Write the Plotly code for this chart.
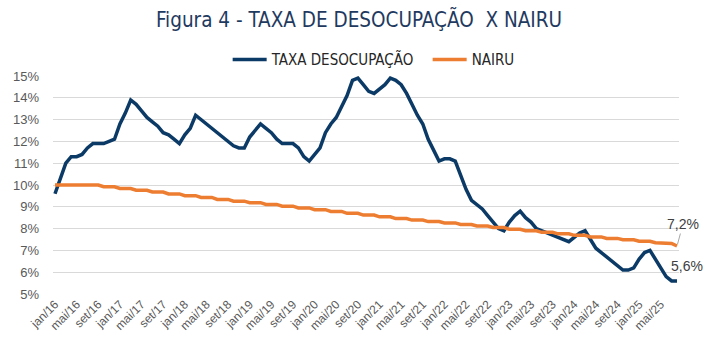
import plotly.graph_objects as go

# ---- data ----
month_abbr = ["jan", "fev", "mar", "abr", "mai", "jun", "jul", "ago", "set", "out", "nov", "dez"]
years = ["16", "17", "18", "19", "20", "21", "22", "23", "24", "25"]
months = [f"{m}/{y}" for y in years for m in month_abbr][:116]  # jan/16 .. ago/25

taxa_desocupacao = [
    9.6, 10.3, 11.0, 11.3, 11.3, 11.4, 11.7, 11.9, 11.9, 11.9, 12.0, 12.1,   # 2016
    12.8, 13.3, 13.9, 13.7, 13.4, 13.1, 12.9, 12.7, 12.4, 12.3, 12.1, 11.9,  # 2017
    12.3, 12.6, 13.2, 13.0, 12.8, 12.6, 12.4, 12.2, 12.0, 11.8, 11.7, 11.7,  # 2018
    12.2, 12.5, 12.8, 12.6, 12.4, 12.1, 11.9, 11.9, 11.9, 11.7, 11.3, 11.1,  # 2019
    11.4, 11.7, 12.4, 12.8, 13.1, 13.6, 14.1, 14.8, 14.9, 14.6, 14.3, 14.2,  # 2020
    14.4, 14.6, 14.9, 14.8, 14.6, 14.2, 13.7, 13.2, 12.8, 12.1, 11.6, 11.1,  # 2021
    11.2, 11.2, 11.1, 10.4, 9.8, 9.3, 9.1, 8.9, 8.6, 8.3, 8.0, 7.9,          # 2022
    8.3, 8.6, 8.8, 8.5, 8.3, 8.0, 7.9, 7.8, 7.7, 7.6, 7.5, 7.4,              # 2023
    7.6, 7.8, 7.9, 7.5, 7.1, 6.9, 6.7, 6.5, 6.3, 6.1, 6.1, 6.2,              # 2024
    6.6, 6.9, 7.0, 6.6, 6.2, 5.8, 5.6, 5.6,                                  # 2025
]

nairu = [
    10.00, 10.00, 10.00, 10.00, 10.00, 10.00, 10.00, 10.00, 10.00, 9.92, 9.92, 9.92,
    9.84, 9.84, 9.84, 9.76, 9.76, 9.76, 9.68, 9.68, 9.68, 9.59, 9.59, 9.59,
    9.51, 9.51, 9.51, 9.43, 9.43, 9.43, 9.34, 9.34, 9.34, 9.26, 9.26, 9.26,
    9.19, 9.19, 9.19, 9.11, 9.11, 9.11, 9.03, 9.03, 9.03, 8.95, 8.95, 8.95,
    8.87, 8.87, 8.87, 8.79, 8.79, 8.79, 8.70, 8.70, 8.70, 8.62, 8.62, 8.62,
    8.54, 8.54, 8.54, 8.46, 8.46, 8.46, 8.39, 8.39, 8.39, 8.32, 8.32, 8.32,
    8.26, 8.26, 8.26, 8.19, 8.19, 8.19, 8.12, 8.12, 8.12, 8.05, 8.05, 8.05,
    7.97, 7.97, 7.97, 7.90, 7.90, 7.90, 7.83, 7.83, 7.83, 7.76, 7.76, 7.76,
    7.69, 7.69, 7.69, 7.62, 7.62, 7.62, 7.55, 7.55, 7.55, 7.49, 7.49, 7.49,
    7.42, 7.42, 7.42, 7.35, 7.35, 7.35, 7.32, 7.20,
]

tick_labels = months[::4]
y_ticks = [5, 6, 7, 8, 9, 10, 11, 12, 13, 14, 15]

BLUE = "#0B3A66"
ORANGE = "#ED7D31"
NARROW = "Liberation Sans Narrow, DejaVu Sans Condensed, Roboto Condensed, sans-serif"
SANS = "Liberation Sans, Arial, sans-serif"

fig = go.Figure()
fig.add_trace(go.Scatter(x=months, y=taxa_desocupacao, name="TAXA DESOCUPAÇÃO",
                         mode="lines", line=dict(color=BLUE, width=3.5)))
fig.add_trace(go.Scatter(x=months, y=nairu, name="NAIRU",
                         mode="lines", line=dict(color=ORANGE, width=3.5)))

fig.add_annotation(x=months[-1], y=nairu[-1], text="7,2%", showarrow=True,
                   ax=6, ay=-22, arrowhead=0, arrowwidth=1, arrowcolor="#A6A6A6",
                   standoff=2, font=dict(family=SANS, size=14, color="#404040"))
fig.add_annotation(x=months[-1], y=taxa_desocupacao[-1], text="5,6%", showarrow=False,
                   xshift=10, yshift=15, font=dict(family=SANS, size=14, color="#404040"))

fig.update_layout(
    width=718, height=363,
    margin=dict(l=53, r=39, t=76, b=69),
    paper_bgcolor="white", plot_bgcolor="white",
    title=dict(text="Figura 4 - TAXA DE DESOCUPAÇÃO  X NAIRU", x=0.5, xanchor="center",
               xref="container", y=0.945, yanchor="middle",
               font=dict(family=NARROW, size=20.5, color="#1F3A5F")),
    legend=dict(orientation="h", x=0.279, xanchor="left", y=1.075, yanchor="middle",
                font=dict(family=NARROW, size=15, color="#262626"),
                itemwidth=34, entrywidth=151, bgcolor="rgba(0,0,0,0)"),
    showlegend=True,
)
fig.update_xaxes(type="category", categoryorder="array", categoryarray=months,
                 tickmode="array", tickvals=tick_labels, ticktext=tick_labels,
                 tickangle=-45, tickfont=dict(family=SANS, size=12, color="#595959"),
                 range=[-0.37, len(months) - 1 + 0.37], showgrid=False,
                 showline=False, zeroline=False, ticks="", automargin=False)
fig.update_yaxes(range=[5, 15], tickmode="array", tickvals=y_ticks,
                 ticktext=[f"{v}%" for v in y_ticks],
                 tickfont=dict(family=SANS, size=13, color="#595959"),
                 showgrid=True, gridcolor="#D9D9D9", gridwidth=1,
                 zeroline=False, showline=False, ticks="", ticklabelstandoff=13,
                 automargin=False)

fig.write_html("out.html", config={"displayModeBar": False},
               post_script="document.body.style.margin='0';")
